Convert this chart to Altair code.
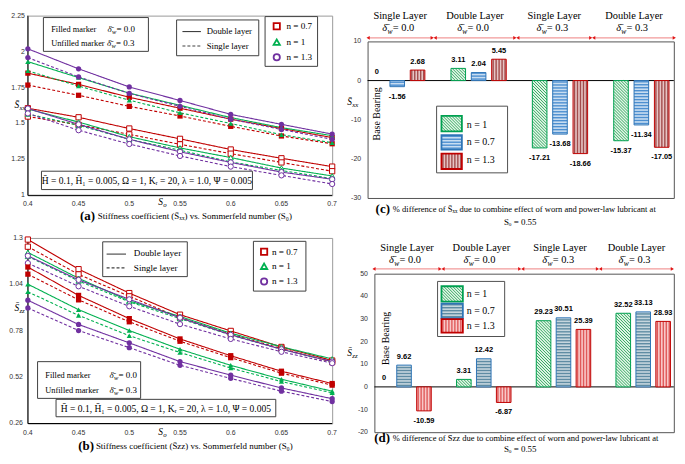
import altair as alt
import pandas as pd

# ------------------------------------------------------------------ data
SO = [0.4, 0.45, 0.5, 0.55, 0.6, 0.65, 0.7]
N_LEVELS = ["0.7", "1", "1.3"]
A_YTICKS = [1, 1.25, 1.5, 1.75, 2, 2.25]
B_YTICKS = [0.26, 0.52, 0.78, 1.04, 1.3]
C_YTICKS = [-30, -20, -10, 0, 10]
D_YTICKS = [-20, -10, 0, 10, 20, 30, 40, 50]

# (a) S_xx   W0: delta_w = 0.0 (filled)   W3: delta_w = 0.3 (unfilled)
SXX_N07_DOUBLE_W0 = [1.850, 1.772, 1.682, 1.606, 1.530, 1.465, 1.402]
SXX_N07_SINGLE_W0 = [1.767, 1.696, 1.619, 1.552, 1.480, 1.413, 1.359]
SXX_N1_DOUBLE_W0 = [1.930, 1.819, 1.711, 1.626, 1.541, 1.471, 1.415]
SXX_N1_SINGLE_W0 = [1.866, 1.760, 1.662, 1.574, 1.500, 1.422, 1.366]
SXX_N13_DOUBLE_W0 = [2.019, 1.880, 1.754, 1.660, 1.563, 1.494, 1.426]
SXX_N13_SINGLE_W0 = [1.958, 1.824, 1.709, 1.619, 1.530, 1.458, 1.390]
SXX_N07_DOUBLE_W3 = [1.606, 1.543, 1.465, 1.393, 1.319, 1.258, 1.200]
SXX_N07_SINGLE_W3 = [1.548, 1.491, 1.424, 1.355, 1.290, 1.229, 1.168]
SXX_N1_DOUBLE_W3 = [1.600, 1.510, 1.408, 1.330, 1.263, 1.190, 1.135]
SXX_N1_SINGLE_W3 = [1.566, 1.487, 1.390, 1.314, 1.233, 1.173, 1.117]
SXX_N13_DOUBLE_W3 = [1.604, 1.494, 1.390, 1.303, 1.229, 1.162, 1.112]
SXX_N13_SINGLE_W3 = [1.570, 1.453, 1.357, 1.274, 1.200, 1.139, 1.079]

# (b) S_zz
SZZ_N07_DOUBLE_W0 = [1.137, 0.978, 0.848, 0.734, 0.640, 0.553, 0.484]
SZZ_N07_SINGLE_W0 = [1.097, 0.953, 0.830, 0.721, 0.629, 0.542, 0.475]
SZZ_N1_DOUBLE_W0 = [1.041, 0.898, 0.781, 0.676, 0.586, 0.508, 0.441]
SZZ_N1_SINGLE_W0 = [0.998, 0.866, 0.752, 0.658, 0.571, 0.495, 0.432]
SZZ_N13_DOUBLE_W0 = [0.951, 0.815, 0.712, 0.607, 0.531, 0.459, 0.399]
SZZ_N13_SINGLE_W0 = [0.908, 0.781, 0.685, 0.586, 0.513, 0.441, 0.383]
SZZ_N07_DOUBLE_W3 = [1.291, 1.125, 0.991, 0.870, 0.779, 0.689, 0.613]
SZZ_N07_SINGLE_W3 = [1.251, 1.096, 0.973, 0.853, 0.761, 0.680, 0.604]
SZZ_N1_DOUBLE_W3 = [1.219, 1.074, 0.947, 0.860, 0.766, 0.690, 0.622]
SZZ_N1_SINGLE_W3 = [1.197, 1.059, 0.942, 0.848, 0.756, 0.676, 0.607]
SZZ_N13_DOUBLE_W3 = [1.200, 1.065, 0.956, 0.853, 0.757, 0.676, 0.607]
SZZ_N13_SINGLE_W3 = [1.159, 1.029, 0.917, 0.817, 0.734, 0.662, 0.598]

# (c), (d) % difference at So = 0.55
SECTIONS = ["Single Layer", "Double Layer", "Single Layer", "Double Layer"]
WEAR = ["0.0", "0.0", "0.3", "0.3"]
C_N1 = [0, 3.11, -17.21, -15.37]
C_N07 = [-1.56, 2.04, -13.68, -11.34]
C_N13 = [2.68, 5.45, -18.66, -17.05]
D_N1 = [0, 3.31, 29.23, 32.52]
D_N07 = [9.62, 12.42, 30.51, 33.13]
D_N13 = [-10.59, -6.87, 25.39, 28.93]

# ------------------------------------------------------------------ style / layout
SERIF = "Liberation Serif"
SANS = "Liberation Sans"
RED, GREEN, PURPLE = "#C00000", "#00B050", "#7030A0"
SX = 669 / 683
SY = 443 / 455

A_REF = (19, 5, 332, 191)
C_REF = (368, 31, 683, 193)
B_REF = (19, 233, 332, 425)
D_REF = (375, 269, 683, 433)

ONE = pd.DataFrame({"k": [0]})


def rx(P, px):
    return (px - P[0]) * SX


def ry(P, py):
    return (py - P[1]) * SY


def size_of(P):
    return (P[2] - P[0]) * SX, (P[3] - P[1]) * SY


def txt(x, y, s, size=9.0, align="left", weight="normal", style="normal",
        font=SERIF, color="black", angle=0, baseline="middle"):
    return alt.Chart(ONE).mark_text(
        text=s, fontSize=size, align=align, baseline=baseline, fontWeight=weight,
        fontStyle=style, font=font, color=color, angle=angle
    ).encode(x=alt.value(x), y=alt.value(y))


def box(x1, y1, x2, y2, stroke="#404040", sw=1.0, fill="white"):
    return alt.Chart(ONE).mark_rect(fill=fill, stroke=stroke, strokeWidth=sw).encode(
        x=alt.value(x1), x2=alt.value(x2), y=alt.value(y1), y2=alt.value(y2))


def anchor(x, y):
    return alt.Chart(ONE).mark_rect(opacity=0).encode(
        x=alt.value(x), x2=alt.value(x + 1), y=alt.value(y), y2=alt.value(y + 1))


def hline(x1, x2, y, dash=None, color="#404040", sw=1.1):
    kw = {} if dash is None else {"strokeDash": dash}
    return alt.Chart(ONE).mark_rule(color=color, strokeWidth=sw, **kw).encode(
        x=alt.value(x1), x2=alt.value(x2), y=alt.value(y))


def vline(x, y1, y2, color="black", sw=1.0):
    return alt.Chart(ONE).mark_rule(color=color, strokeWidth=sw).encode(
        x=alt.value(x), y=alt.value(y1), y2=alt.value(y2))


def marker(x, y, shape, color, size=40):
    return alt.Chart(ONE).mark_point(shape=shape, color=color, filled=False, size=size,
                                     strokeWidth=1.8, opacity=1).encode(
        x=alt.value(x), y=alt.value(y))


def sub_text(x, y, base, sub, size, style="italic"):
    return [txt(x, y, base, size, align="right", style=style),
            txt(x + 0.3, y + 0.32 * size, sub, 0.72 * size, align="left", style=style)]


def delta_w(x, y, val, size):
    return [txt(x, y, "\u03b4\u0304", size, style="italic"),
            txt(x + 0.5 * size, y + 0.32 * size, "w", 0.72 * size, style="italic"),
            txt(x + 1.0 * size, y, "= " + val, size)]


def tick_df(values):
    return pd.DataFrame({"t": values, "lab": [f"{v:g}" for v in values]})


def ylabels(values, Y, xpx):
    return alt.Chart(tick_df(values)).mark_text(
        align="right", baseline="middle", font=SANS, fontSize=7, color="#333333").encode(
        x=alt.value(xpx), y=Y("t:Q"), text="lab:N")


def xlabels(values, X, ypx):
    return alt.Chart(tick_df(values)).mark_text(
        align="center", baseline="middle", font=SANS, fontSize=7, color="#333333").encode(
        x=X("t:Q"), y=alt.value(ypx), text="lab:N")


# ------------------------------------------------------------------ line panels
def line_panel(P, ydom, yticks, series, ylab_x, xlab_y):
    W, H = size_of(P)
    rows = []
    for n, layer, wear, vals in series:
        for s, v in zip(SO, vals):
            rows.append({"So": s, "v": v, "n": n, "layer": layer, "wear": wear})
    df = pd.DataFrame(rows)
    xs = alt.Scale(domain=[0.4, 0.7], nice=False, zero=False)
    ys = alt.Scale(domain=ydom, nice=False, zero=False)
    X = lambda f: alt.X(f, scale=xs, axis=None)
    Y = lambda f: alt.Y(f, scale=ys, axis=None)
    color = alt.Color("n:N", scale=alt.Scale(domain=N_LEVELS, range=[RED, GREEN, PURPLE]), legend=None)
    shape = alt.Shape("n:N", scale=alt.Scale(domain=N_LEVELS, range=["square", "triangle-up", "circle"]),
                      legend=None)
    base = alt.Chart(df).encode(x=X("So:Q"), y=Y("v:Q"), color=color)
    lines = base.mark_line(strokeWidth=1.1).encode(
        strokeDash=alt.StrokeDash("layer:N", scale=alt.Scale(domain=["Double", "Single"],
                                                            range=[[1, 0], [3, 2]]), legend=None),
        detail="wear:N")
    filled = base.transform_filter(alt.datum.wear == "0.0").mark_point(
        filled=True, size=28, opacity=1).encode(shape=shape)
    opened = base.transform_filter(alt.datum.wear == "0.3").mark_point(
        filled=False, fill="white", size=28, opacity=1, strokeWidth=1).encode(shape=shape)
    frame = [vline(0, 0, H), hline(0, W, H, color="black", sw=1.0)]
    labs = [ylabels(yticks, Y, ylab_x), xlabels(SO, X, H + xlab_y)]
    return frame + [lines, opened, filled] + labs, W, H


def series_of(prefix):
    g = globals()
    out = []
    for tag, n in [("N07", "0.7"), ("N1", "1"), ("N13", "1.3")]:
        for lay, layname in [("DOUBLE", "Double"), ("SINGLE", "Single")]:
            for w, wname in [("W0", "0.0"), ("W3", "0.3")]:
                out.append((n, layname, wname, g[f"{prefix}_{tag}_{lay}_{w}"]))
    return out


PARAMS = "H\u0304 = 0.1, H\u0304\u2081 = 0.005, \u03a9 = 1, K\u1d63 = 20, \u03bb = 1.0, \u03a8 = 0.005"

# ---- panel (a)
L = lambda px: rx(A_REF, px)
T = lambda py: ry(A_REF, py)
la, WA, HA = line_panel(A_REF, [1, 2.25], A_YTICKS, series_of("SXX"), -3, 9 * SY)
anno_a = [
    box(L(35), T(7), L(143), T(42)),
    txt(L(43), T(18.5), "Filled marker", 8.4),
    *delta_w(L(101), T(18.5), "0.0", 9.0),
    txt(L(43), T(33.5), "Unfilled marker", 8.4),
    *delta_w(L(100.5), T(33.5), "0.3", 9.0),
    box(L(172), T(9.5), L(256.5), T(46.5)),
    hline(L(178), L(197), T(21.5)),
    hline(L(178), L(197), T(36.5), dash=[3, 2]),
    txt(L(203), T(21), "Double layer", 8.8),
    txt(L(203), T(36), "Single layer", 8.8),
    box(L(263), T(6), L(317), T(57.5)),
    marker(L(275), T(16), "square", RED),
    marker(L(275), T(32.5), "triangle-up", GREEN),
    marker(L(275), T(48), "circle", PURPLE),
    txt(L(285), T(16), "n = 0.7", 9.2),
    txt(L(285), T(32.5), "n = 1", 9.2),
    txt(L(285), T(48), "n = 1.3", 9.2),
    box(L(33), T(166), L(250), T(185)),
    txt(L(141.5), T(176), PARAMS, 9.6, align="center"),
    *sub_text(L(10), T(98), "S\u0304", "xx", 9.5),
    *sub_text(L(158), T(198), "S", "o", 9.5),
    txt(L(88), T(212), "(a)", 13, align="right", weight="bold"),
    txt(L(91), T(212.5), "Stiffness coefficient (S\u0304\u2093\u2093) vs. Sommerfeld number (S\u2080)", 9),
    anchor(L(2), T(0)),
    anchor(L(2), T(226)),
]
panel_a = alt.layer(*la, *anno_a).properties(
    width=WA, height=HA, view=alt.ViewBackground(stroke="#9a9a9a", strokeWidth=1))

# ---- panel (b)
L = lambda px: rx(B_REF, px)
T = lambda py: ry(B_REF, py)
lb, WB, HB = line_panel(B_REF, [0.26, 1.3], B_YTICKS, series_of("SZZ"), -5, 10 * SY)
anno_b = [
    box(L(96), T(237), L(183), T(273)),
    hline(L(100), L(120), T(249.7)),
    hline(L(100), L(120), T(264), dash=[3, 2]),
    txt(L(128), T(249), "Double layer", 9.2),
    txt(L(128), T(264), "Single layer", 9.2),
    box(L(251), T(236.5), L(305), T(288)),
    marker(L(262), T(247.3), "square", RED),
    marker(L(262), T(262.3), "triangle-up", GREEN),
    marker(L(262), T(278), "circle", PURPLE),
    txt(L(270), T(247.3), "n = 0.7", 9.2),
    txt(L(270), T(262.3), "n = 1", 9.2),
    txt(L(270), T(278), "n = 1.3", 9.2),
    box(L(29), T(361), L(135), T(399)),
    txt(L(37), T(374.5), "Filled marker", 8.4),
    *delta_w(L(103), T(374.5), "0.0", 9.0),
    txt(L(37), T(390.3), "Unfilled marker", 8.4),
    *delta_w(L(103), T(390.3), "0.3", 9.0),
    box(L(48), T(400), L(274), T(418)),
    txt(L(161), T(410), PARAMS, 9.6, align="center"),
    *sub_text(L(10), T(305), "S\u0304", "zz", 9.5),
    *sub_text(L(158), T(434), "S", "o", 9.5),
    txt(L(87), T(448), "(b)", 13, align="right", weight="bold"),
    txt(L(89), T(448.5), "Stiffness coefficient (S\u0304zz) vs. Sommerfeld number (S\u2080)", 9),
    anchor(L(2), T(227)),
]
panel_b = alt.layer(*lb, *anno_b).properties(
    width=WB, height=HB, view=alt.ViewBackground(stroke="#9a9a9a", strokeWidth=1))


# ------------------------------------------------------------------ bar panels
def stripes(rects, sx, sy, step=3.0):
    out = []
    for r in rects.itertuples():
        Wp = (r.xr - r.xl) * sx
        Hp = (r.yhi - r.ylo) * sy
        if Hp < 0.8:
            continue
        if r.kind == "n07":
            t = step / 2
            while t < Hp:
                yy = r.ylo + t / sy
                out.append((r.kind, r.xl, yy, r.xr, yy))
                t += step
        elif r.kind == "n13":
            t = step / 2
            while t < Wp:
                xx = r.xl + t / sx
                out.append((r.kind, xx, r.ylo, xx, r.yhi))
                t += step
        else:
            c = -Wp + step / 2
            while c < Hp:
                u0 = max(0.0, -c)
                u1 = min(Wp, Hp - c)
                if u1 > u0:
                    out.append((r.kind, r.xl + u0 / sx, r.yhi - (u0 + c) / sy,
                                r.xl + u1 / sx, r.yhi - (u1 + c) / sy))
                c += step
    return pd.DataFrame(out, columns=["kind", "x1", "y1", "x2", "y2"])


KINDS = ["n1", "n07", "n13"]
KIND_LABEL = {"n1": "n = 1", "n07": "n = 0.7", "n13": "n = 1.3"}
STRIPE_W = {"n1": 0.9, "n07": 1.4, "n13": 1.4}


def bar_panel(P, xdom, ydom, yticks, n1, n07, n13, pal, leg, bb, ysub, cap_letter, cap_text, cap_y):
    W, H = size_of(P)
    sx = W / (xdom[1] - xdom[0])
    sy = H / (ydom[1] - ydom[0])
    hw = 7.5 * SX / sx
    rows = []
    for s in range(4):
        for k, arr in enumerate([n1, n07, n13]):
            v = arr[s]
            pos = s + (k - 1) * 0.25
            rows.append(dict(pos=pos, v=v, xl=pos - hw, xr=pos + hw, ylo=min(0, v), yhi=max(0, v),
                             kind=KINDS[k], label=("0" if v == 0 else f"{v:.2f}")))
    bars = pd.DataFrame(rows)
    realbars = bars[bars.v != 0]

    ux = lambda px: xdom[0] + rx(P, px) / sx
    uy = lambda py: ydom[1] - ry(P, py) / sy
    sw = pd.DataFrame([dict(xl=ux(leg["sx"][0]), xr=ux(leg["sx"][1]), ylo=uy(y2), yhi=uy(y1), kind=kd)
                       for kd, (y1, y2) in zip(KINDS, leg["sy"])])

    xs = alt.Scale(domain=xdom, nice=False, zero=False)
    ys = alt.Scale(domain=ydom, nice=False, zero=False)
    X = lambda f: alt.X(f, scale=xs, axis=None)
    Y = lambda f: alt.Y(f, scale=ys, axis=None)

    def rect_layers(df, border_w):
        segs = stripes(df, sx, sy)
        out = []
        for kd in KINDS:
            fill, stripe, border = pal[kd]
            d = df[df.kind == kd]
            sg = segs[segs.kind == kd]
            out.append(alt.Chart(d).mark_rect(fill=fill, strokeWidth=0).encode(
                x=X("xl:Q"), x2="xr:Q", y=Y("ylo:Q"), y2="yhi:Q"))
            if len(sg):
                out.append(alt.Chart(sg).mark_rule(color=stripe, strokeWidth=STRIPE_W[kd]).encode(
                    x=X("x1:Q"), x2="x2:Q", y=Y("y1:Q"), y2="y2:Q"))
            out.append(alt.Chart(d).mark_rect(fillOpacity=0, stroke=border, strokeWidth=border_w).encode(
                x=X("xl:Q"), x2="xr:Q", y=Y("ylo:Q"), y2="yhi:Q"))
        return out

    L = lambda px: rx(P, px)
    T = lambda py: ry(P, py)
    zero = alt.Chart(pd.DataFrame({"z": [0]})).mark_rule(color="black", strokeWidth=1).encode(
        y=Y("z:Q"))
    layers = [zero, ylabels(yticks, Y, -6.5)]
    layers += rect_layers(realbars, 1.0)
    layers += [
        alt.Chart(bars[bars.v >= 0]).mark_text(font=SANS, fontSize=7.5, fontWeight="bold", dy=-8.5,
                                               baseline="middle").encode(
            x=X("pos:Q"), y=Y("v:Q"), text="label:N"),
        alt.Chart(bars[bars.v < 0]).mark_text(font=SANS, fontSize=7.5, fontWeight="bold", dy=10,
                                              baseline="middle").encode(
            x=X("pos:Q"), y=Y("v:Q"), text="label:N"),
        box(L(leg["box"][0]), T(leg["box"][1]), L(leg["box"][2]), T(leg["box"][3]), stroke="#505050"),
    ]
    layers += rect_layers(sw, 1.8)
    for kd, ty in zip(KINDS, leg["ty"]):
        layers.append(txt(L(leg["tx"]), T(ty), KIND_LABEL[kd], 10))
    layers += [
        txt(L(bb[0]), T(bb[1]), "Base Bearing", 10, align="center", angle=270),
        *sub_text(L(352), T(ysub[1]), "S\u0304", ysub[0], 9.5),
        txt(L(391), T(cap_y[0]), cap_letter, 13, align="right", weight="bold"),
        txt(L(394), T(cap_y[0] + 0.5), cap_text, 8.6),
        txt(L(525), T(cap_y[1]), "S\u2092 = 0.55", 9, align="center"),
    ]
    return alt.layer(*layers).properties(width=W, height=H,
                                         view=alt.ViewBackground(stroke="#555555", strokeWidth=1))


def header_chart(P, top_ref, xdom, bnds, y_ref, size=10.5):
    W, _ = size_of(P)
    hh = (P[1] - top_ref) * SY
    sx = W / (xdom[1] - xdom[0])
    gap = 1.5 / sx
    hdf = pd.DataFrame({"hx": [(bnds[i] + bnds[i + 1]) / 2 for i in range(4)],
                        "top": SECTIONS, "val": ["= " + w for w in WEAR]})
    adf = pd.DataFrame({"a": [bnds[i] + gap for i in range(4)], "b": [bnds[i + 1] - gap for i in range(4)]})
    X = lambda f: alt.X(f, scale=alt.Scale(domain=xdom, nice=False, zero=False), axis=None)
    y1, y2, y3 = [(v - top_ref) * SY for v in y_ref]
    d0 = -18
    layers = [
        alt.Chart(hdf).mark_text(font=SERIF, fontSize=size, baseline="middle").encode(
            x=X("hx:Q"), y=alt.value(y1), text="top:N"),
        alt.Chart(hdf).mark_text(font=SERIF, fontSize=size, fontStyle="italic", align="left",
                                 baseline="middle", dx=d0, text="\u03b4\u0304").encode(
            x=X("hx:Q"), y=alt.value(y2)),
        alt.Chart(hdf).mark_text(font=SERIF, fontSize=size * 0.72, fontStyle="italic", align="left",
                                 baseline="middle", dx=d0 + 0.5 * size, dy=0.32 * size, text="w").encode(
            x=X("hx:Q"), y=alt.value(y2)),
        alt.Chart(hdf).mark_text(font=SERIF, fontSize=size, align="left", baseline="middle",
                                 dx=d0 + 1.0 * size).encode(
            x=X("hx:Q"), y=alt.value(y2), text="val:N"),
        alt.Chart(adf).mark_rule(color="#F29A9A", strokeWidth=1.3).encode(
            x=X("a:Q"), x2="b:Q", y=alt.value(y3)),
        alt.Chart(adf).mark_point(shape="triangle-left", filled=True, color="#E01515", size=14,
                                  opacity=1).encode(x=X("a:Q"), y=alt.value(y3)),
        alt.Chart(adf).mark_point(shape="triangle-right", filled=True, color="#E01515", size=14,
                                  opacity=1).encode(x=X("b:Q"), y=alt.value(y3)),
    ]
    return alt.layer(*layers).properties(width=W, height=hh,
                                         view=alt.ViewBackground(stroke="transparent"))


PAL_C = {"n1": ("#e3f5e8", "#1f9f50", "#00A050"),
         "n07": ("#c8ddf1", "#4d8fd0", "#2E75B6"),
         "n13": ("#e6c4c4", "#a24c4c", "#C00000")}
PAL_D = {"n1": ("#e3f5e8", "#1f9f50", "#00A050"),
         "n07": ("#c6d6de", "#5f8ca3", "#2E75B6"),
         "n13": ("#f8c8c8", "#e05a5a", "#C00000")}

XDOM_C = [-0.3644, 3.399]
XDOM_D = [-0.372, 3.384]

panel_c = bar_panel(
    C_REF, XDOM_C, [-30, 10], C_YTICKS, C_N1, C_N07, C_N13, PAL_C,
    {"box": (439, 98, 512, 167), "sx": (444, 465), "sy": [(108, 124), (128, 143), (147, 163)],
     "tx": 470, "ty": [117, 135, 154]},
    (378, 106), ("xx", 94), "(c)",
    "% difference of S\u0304\u2093\u2093 due to combine effect of worn and power-law lubricant at", (204, 218))

panel_d = bar_panel(
    D_REF, XDOM_D, [-20, 50], D_YTICKS, D_N1, D_N07, D_N13, PAL_D,
    {"box": (440, 277, 509, 334), "sx": (444, 466), "sy": [(282, 298), (300, 315), (316, 330)],
     "tx": 470, "ty": [290, 307.5, 323.5]},
    (387, 336), ("zz", 351), "(d)",
    "% difference of S\u0304zz due to combine effect of worn and power-law lubricant at", (439, 450))

head_c = header_chart(C_REF, A_REF[1], XDOM_C, [-0.376, 0.448, 1.464, 2.396, 3.423], (5, 18, 28))
head_d = header_chart(D_REF, B_REF[1], XDOM_D, [-0.396, 0.470, 1.470, 2.445, 3.384], (243, 256, 265))

col_c = alt.vconcat(head_c, panel_c, spacing=0, bounds="flush")
col_d = alt.vconcat(head_d, panel_d, spacing=0, bounds="flush")

row1 = alt.hconcat(panel_a, col_c, spacing=(C_REF[0] - A_REF[2]) * SX, bounds="flush")
row2 = alt.hconcat(panel_b, col_d, spacing=(D_REF[0] - B_REF[2]) * SX, bounds="flush")

chart = alt.vconcat(row1, row2, spacing=0, bounds="full").properties(
    padding=0, background="white")

chart.save("out.html", embed_options={"renderer": "svg", "actions": False})
